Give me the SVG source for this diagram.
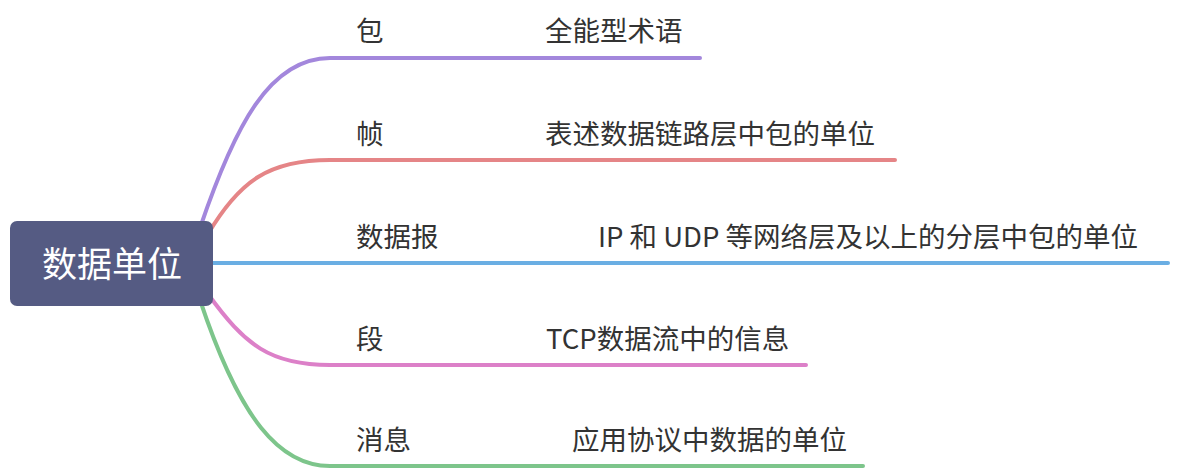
<svg xmlns="http://www.w3.org/2000/svg" width="1178" height="472" viewBox="0 0 1178 472">
<style>
.c{fill:none;stroke-width:4;stroke-linecap:round}
.t{font-family:"Noto Sans CJK SC","Noto Sans",sans-serif;font-size:27.5px;fill:#333}
.r{font-family:"Noto Sans CJK SC","Noto Sans",sans-serif;font-size:35px;fill:#fff}
</style>
<rect width="1178" height="472" fill="#fff"/>
<g id="connectors">
<path class="c" stroke="#a387dc" d="M200 228 C235 125 270 58 330 58 L700 58"/>
<path class="c" stroke="#e58587" d="M208 234 C240 180 270 160 330 160 L895 160"/>
<path class="c" stroke="#6aaee3" d="M200 263 L1168 263"/>
<path class="c" stroke="#dc80c8" d="M208 294 C245 345 270 365 330 365 L806 365"/>
<path class="c" stroke="#7dc58b" d="M200 300 C240 420 280 466 330 466 L863 466"/>
</g>
<g id="root">
<rect x="10" y="221" width="203" height="85" rx="7" fill="#555b83"/>
<text class="r" x="112" y="277" text-anchor="middle">数据单位</text>
</g>
<g id="n1">
<text class="t" x="356" y="41">包</text>
<text class="t" x="545" y="41">全能型术语</text>
</g>
<g id="n2">
<text class="t" x="356" y="144">帧</text>
<text class="t" x="545" y="144">表述数据链路层中包的单位</text>
</g>
<g id="n3">
<text class="t" x="356" y="247">数据报</text>
<text class="t" x="598" y="247">IP 和 UDP 等网络层及以上的分层中包的单位</text>
</g>
<g id="n4">
<text class="t" x="356" y="349">段</text>
<text class="t" x="546" y="349">TCP数据流中的信息</text>
</g>
<g id="n5">
<text class="t" x="356" y="450">消息</text>
<text class="t" x="572" y="450">应用协议中数据的单位</text>
</g>
</svg>
